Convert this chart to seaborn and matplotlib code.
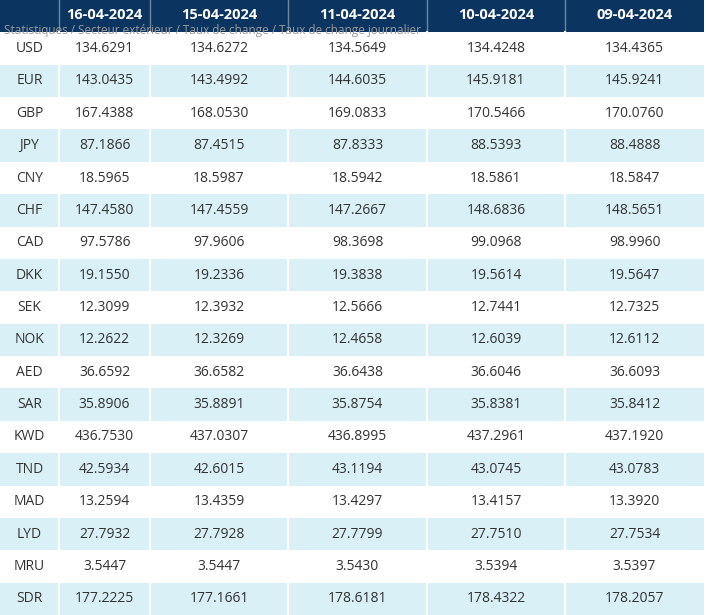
import numpy as np
import matplotlib
matplotlib.use("Agg")
import matplotlib.pyplot as plt
import seaborn as sns
from matplotlib.colors import ListedColormap

dates = ["16-04-2024", "15-04-2024", "11-04-2024", "10-04-2024", "09-04-2024"]
currencies = ["USD", "EUR", "GBP", "JPY", "CNY", "CHF", "CAD", "DKK", "SEK",
              "NOK", "AED", "SAR", "KWD", "TND", "MAD", "LYD", "MRU", "SDR"]
d16 = ["134.6291", "143.0435", "167.4388", "87.1866", "18.5965", "147.4580", "97.5786", "19.1550", "12.3099",
       "12.2622", "36.6592", "35.8906", "436.7530", "42.5934", "13.2594", "27.7932", "3.5447", "177.2225"]
d15 = ["134.6272", "143.4992", "168.0530", "87.4515", "18.5987", "147.4559", "97.9606", "19.2336", "12.3932",
       "12.3269", "36.6582", "35.8891", "437.0307", "42.6015", "13.4359", "27.7928", "3.5447", "177.1661"]
d11 = ["134.5649", "144.6035", "169.0833", "87.8333", "18.5942", "147.2667", "98.3698", "19.3838", "12.5666",
       "12.4658", "36.6438", "35.8754", "436.8995", "43.1194", "13.4297", "27.7799", "3.5430", "178.6181"]
d10 = ["134.4248", "145.9181", "170.5466", "88.5393", "18.5861", "148.6836", "99.0968", "19.5614", "12.7441",
       "12.6039", "36.6046", "35.8381", "437.2961", "43.0745", "13.4157", "27.7510", "3.5394", "178.4322"]
d09 = ["134.4365", "145.9241", "170.0760", "88.4888", "18.5847", "148.5651", "98.9960", "19.5647", "12.7325",
       "12.6112", "36.6093", "35.8412", "437.1920", "43.0783", "13.3920", "27.7534", "3.5397", "178.2057"]
breadcrumb = "Statistiques / Secteur extérieur / Taux de change / Taux de change journalier"

col_w = [59, 91, 138, 139, 138, 139]
columns = [currencies, d16, d15, d11, d10, d09]
n_rows = len(currencies) + 1

# cell kind: 2 = header, 1 = blue stripe, 0 = white
kind = np.zeros((n_rows, len(col_w)))
kind[0, :] = 2
kind[2::2, :] = 1
grid = np.repeat(kind, col_w, axis=1)

fig = plt.figure(figsize=(7.06, 6.15), dpi=100)
ax = fig.add_axes([0, 0, 1, 1])
cmap = ListedColormap(["#ffffff", "#daf0f7", "#0c3461"])
sns.heatmap(grid, ax=ax, cmap=cmap, vmin=-0.5, vmax=2.5, cbar=False,
            xticklabels=False, yticklabels=False, linewidths=0)
ax.set_xlim(0, 706)

edges = np.cumsum([0] + col_w)
for e in edges[1:-1]:
    ax.plot([e, e], [0, 1], color="#6f86a3", lw=1)
    ax.plot([e, e], [1, n_rows], color="white", lw=1.5)

centers = (edges[:-1] + edges[1:]) / 2
for j, d in enumerate(dates):
    ax.text(centers[j + 1], 0.45, d, ha="center", va="center",
            color="white", fontsize=10.5, fontweight="bold", family="Open Sans")
for j, col in enumerate(columns):
    for i, v in enumerate(col):
        ax.text(centers[j], i + 1.5, v, ha="center", va="center",
                color="#333333", fontsize=10, family="Open Sans")

ax.text(4, 0.93, breadcrumb, ha="left", va="center", color="#9a9a9a",
        fontsize=8.5, family="Open Sans")

fig.savefig("out.png", dpi=100)
